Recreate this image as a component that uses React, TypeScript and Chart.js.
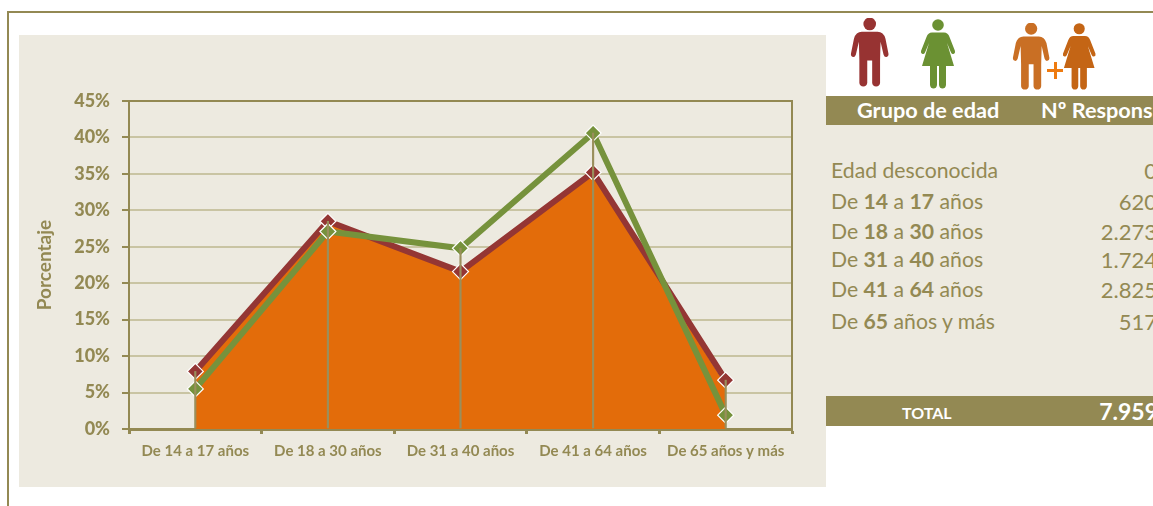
import React, { useEffect, useRef } from "react";
import { Chart, registerables } from "chart.js";

Chart.register(...registerables);

const categories = ["De 14 a 17 años", "De 18 a 30 años", "De 31 a 40 años", "De 41 a 64 años", "De 65 años y más"];
const menValues = [7.9, 28.5, 21.6, 35.2, 6.7];
const womenValues = [5.5, 27.1, 24.8, 40.6, 1.9];
const totalValues = [7.6, 28.2, 21.4, 35.0, 6.0];

const tableRows = [
  [["Edad desconocida", false]],
  [["De ", false], ["14", true], [" a ", false], ["17", true], [" años", false]],
  [["De ", false], ["18", true], [" a ", false], ["30", true], [" años", false]],
  [["De ", false], ["31", true], [" a ", false], ["40", true], [" años", false]],
  [["De ", false], ["41", true], [" a ", false], ["64", true], [" años", false]],
  [["De ", false], ["65", true], [" años y más", false]],
] as [string, boolean][][];
const tableValues = ["0", "620", "2.273", "1.724", "2.825", "517"];
const rowCenters = [170, 201, 231, 259, 289, 321];
const totalLabel = "TOTAL";
const totalValue = "7.959";

const OLIVE = "#938953";
const PANEL = "#EDEAE0";
const FONT = "Lato, 'Open Sans', sans-serif";

const plotFrame = {
  id: "plotFrame",
  afterDraw(chart: any) {
    const { ctx, chartArea: a } = chart;
    ctx.save();
    ctx.strokeStyle = OLIVE;
    ctx.lineWidth = 2;
    ctx.beginPath();
    ctx.moveTo(a.left - 7, a.top);
    ctx.lineTo(a.right, a.top);
    ctx.lineTo(a.right, a.bottom);
    ctx.stroke();
    ctx.restore();
  },
};

function Man({ x, y, h, color }: { x: number; y: number; h: number; color: string }) {
  const w = (h * 40) / 70;
  return (
    <svg style={{ position: "absolute", left: x, top: y }} width={w} height={h} viewBox="0 0 40 70">
      <circle cx="20" cy="6" r="6.4" fill={color} />
      <path d="M12 14 H28 Q34 14 36 21 L39 36 Q39.5 39 37 39.5 Q35 40 34 37 L31 24 L30.5 43 V66 Q30 69.5 26.5 69.5 Q23 69.5 22.5 66 V43 H17.5 V66 Q17 69.5 13.5 69.5 Q10 69.5 9.5 66 V43 L9 24 L6 37 Q5 40 3 39.5 Q0.5 39 1 36 L4 21 Q6 14 12 14 Z" fill={color} />
    </svg>
  );
}

function Woman({ x, y, h, color }: { x: number; y: number; h: number; color: string }) {
  const w = (h * 36) / 70;
  return (
    <svg style={{ position: "absolute", left: x, top: y }} width={w} height={h} viewBox="0 0 36 70">
      <circle cx="18" cy="6" r="5.8" fill={color} />
      <path d="M12 13.5 H24 Q28 13.5 29.5 18 L35 32 Q35.5 34.5 33.5 35 Q32 35.5 31 33.5 L27 24 L34 47 H26 V66 Q25.5 69.5 22.5 69.5 Q19.5 69.5 19 66 V47 H17 V66 Q16.5 69.5 13.5 69.5 Q10.5 69.5 10 66 V47 H2 L9 24 L5 33.5 Q4 35.5 2.5 35 Q0.5 34.5 1 32 L6.5 18 Q8 13.5 12 13.5 Z" fill={color} />
    </svg>
  );
}

const abs = (o: React.CSSProperties): React.CSSProperties => ({ position: "absolute", ...o });

export default function App() {
  const ref = useRef<HTMLCanvasElement>(null);

  useEffect(() => {
    document.body.style.margin = "0";
    document.body.style.overflow = "hidden";
    const chart = new Chart(ref.current!, {
      type: "line",
      plugins: [plotFrame],
      data: {
        labels: categories,
        datasets: [
          {
            type: "bar",
            label: "Guías",
            data: categories.map((_, i) => Math.max(menValues[i], womenValues[i], totalValues[i])),
            backgroundColor: "#9A8F5C",
            barThickness: 1.5,
            order: 0,
          },
          {
            label: "Mujeres",
            data: womenValues,
            borderColor: "#76923C",
            backgroundColor: "#76923C",
            borderWidth: 6,
            pointStyle: "rectRot",
            pointRadius: 8,
            pointBackgroundColor: "#76923C",
            pointBorderColor: "#FFFFFF",
            pointBorderWidth: 1.2,
            tension: 0,
            order: 1,
          },
          {
            label: "Hombres",
            data: menValues,
            borderColor: "#943634",
            backgroundColor: "#943634",
            borderWidth: 6,
            pointStyle: "rectRot",
            pointRadius: 8,
            pointBackgroundColor: "#943634",
            pointBorderColor: "#FFFFFF",
            pointBorderWidth: 1.2,
            tension: 0,
            order: 2,
          },
          {
            label: "Total",
            data: totalValues,
            borderColor: "#E36C0A",
            backgroundColor: "#E36C0A",
            borderWidth: 0,
            pointRadius: 0,
            fill: "origin",
            tension: 0,
            order: 3,
          },
        ],
      } as any,
      options: {
        animation: false,
        responsive: false,
        layout: { padding: { top: 66, right: 34, left: 0, bottom: 0 } },
        plugins: { legend: { display: false }, tooltip: { enabled: false } },
        scales: {
          x: {
            offset: true,
            afterFit(scale: any) {
              scale.height = 58;
            },
            grid: {
              offset: true,
              drawOnChartArea: false,
              drawTicks: true,
              tickLength: 5,
              tickWidth: 3,
              tickColor: OLIVE,
            },
            border: { color: OLIVE, width: 3 },
            ticks: {
              color: OLIVE,
              padding: 8,
              autoSkip: false,
              maxRotation: 0,
              font: { family: FONT, size: 15, weight: "bold" },
            },
          },
          y: {
            min: 0,
            max: 45,
            afterFit(scale: any) {
              scale.width = 110;
            },
            grid: {
              color: "#C9C4A3",
              lineWidth: 2,
              tickColor: OLIVE,
              tickLength: 7,
              tickWidth: 2,
            },
            border: { color: OLIVE, width: 2 },
            ticks: {
              stepSize: 5,
              color: OLIVE,
              padding: 12,
              callback: (v: any) => v + "%",
              font: { family: FONT, size: 18, weight: "900" },
            },
            title: {
              display: true,
              text: "Porcentaje",
              color: OLIVE,
              padding: { top: 14, bottom: 0 },
              font: { family: FONT, size: 19, weight: "bold" },
            },
          },
        },
      } as any,
    });
    return () => chart.destroy();
  }, []);

  const textBase: React.CSSProperties = { fontFamily: FONT, whiteSpace: "nowrap", lineHeight: 1 };

  return (
    <div style={abs({ left: 0, top: 0, width: 1153, height: 506, overflow: "hidden", background: "#fff" })}>
      <div style={abs({ left: 7, top: 11, width: 1146, height: 2, background: OLIVE })} />
      <div style={abs({ left: 7, top: 11, width: 2, height: 495, background: OLIVE })} />

      <div style={abs({ left: 19, top: 35, width: 807, height: 452, background: PANEL })}>
        <canvas ref={ref} width={807} height={452} style={{ display: "block" }} />
      </div>

      <div style={abs({ left: 826, top: 96, width: 327, height: 330, background: PANEL })} />

      <Man x={850} y={18} h={69} color="#973332" />
      <Woman x={920} y={19} h={70} color="#6B9133" />
      <Man x={1012} y={23} h={67} color="#C96F24" />
      <Woman x={1062} y={23} h={67} color="#C46515" />
      <div style={abs({ left: 1047, top: 69, width: 16, height: 3, background: "#EE7B10" })} />
      <div style={abs({ left: 1053.5, top: 62, width: 3, height: 17, background: "#EE7B10" })} />

      <div style={abs({ left: 826, top: 96, width: 327, height: 29, background: OLIVE })} />
      <div style={abs({ ...textBase, left: 857, top: 100, fontSize: 21.7, fontWeight: 700, color: "#fff" })}>Grupo de edad</div>
      <div style={abs({ ...textBase, left: 1041, top: 100, fontSize: 21.7, fontWeight: 700, color: "#fff" })}>Nº Respons</div>

      {tableRows.map((row, i) => (
        <div key={i} style={abs({ ...textBase, left: 831, top: rowCenters[i] - 10, fontSize: 21.2, color: OLIVE })}>
          {row.map(([t, b], j) => (
            <span key={j} style={{ fontWeight: b ? 700 : 400 }}>{t}</span>
          ))}
        </div>
      ))}
      {tableValues.map((v, i) => (
        <div key={i} style={abs({ ...textBase, right: -4, top: rowCenters[i] - 10, fontSize: 22, color: OLIVE })}>{v}</div>
      ))}

      <div style={abs({ left: 826, top: 396, width: 327, height: 30, background: OLIVE })} />
      <div style={abs({ ...textBase, left: 902, top: 405, fontSize: 16, fontWeight: 700, color: "#fff" })}>{totalLabel}</div>
      <div style={abs({ ...textBase, right: -5, top: 400, fontSize: 23, fontWeight: 700, color: "#fff" })}>{totalValue}</div>
    </div>
  );
}
